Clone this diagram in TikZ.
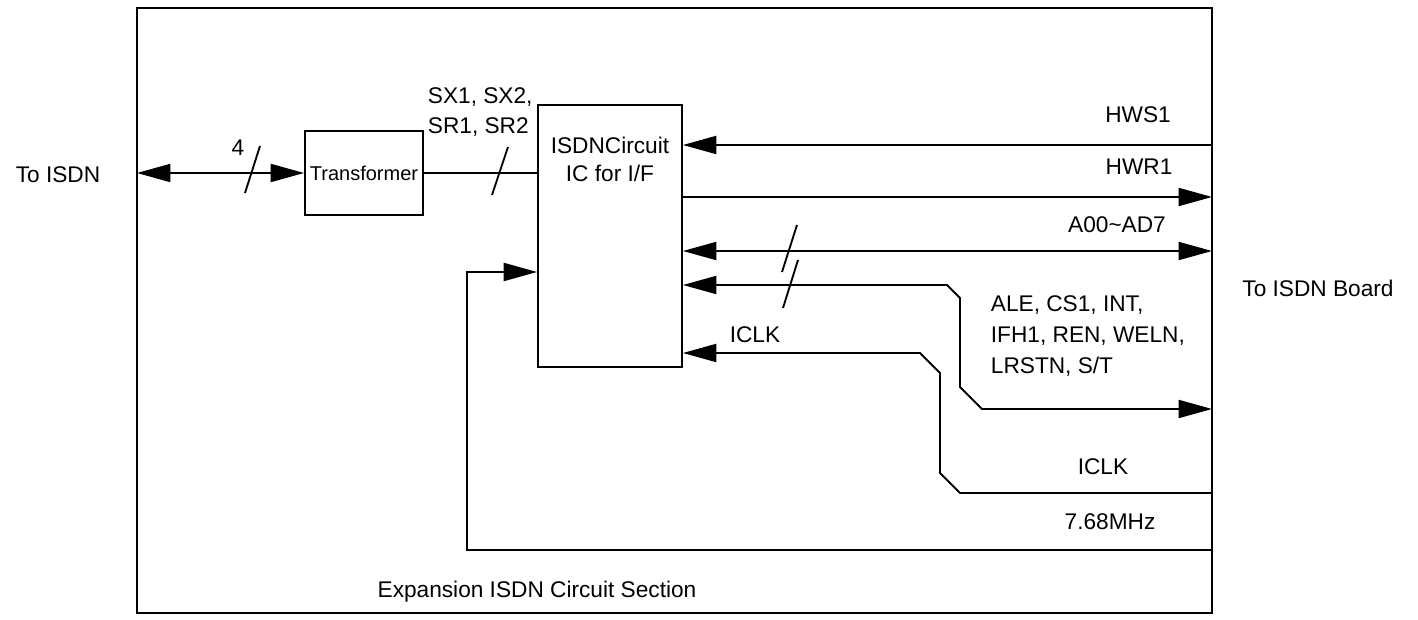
\documentclass[tikz,border=0pt]{standalone}
\usepackage{fontspec}
\setmainfont{Liberation Sans}
\usetikzlibrary{arrows.meta}

\begin{document}
\begin{tikzpicture}[x=0.75pt,y=0.75pt,yscale=-1,xscale=1,
    line width=1.4pt,
    >={Triangle[length=25pt,width=13.5pt]},
    every node/.style={font=\fontsize{17pt}{22.5pt}\selectfont, inner sep=0pt},
    blk/.style={draw, line width=1.4pt, inner sep=0pt}]
\useasboundingbox (0,0) rectangle (1418,620);

%Section frame
    \draw (137,8) rectangle (1212,613);

%Blocks
    \node [blk, minimum width=88.5pt, minimum height=63pt, font=\fontsize{15pt}{18pt}\selectfont] (trans) at (364,173) {Transformer};
    \node [blk, minimum width=108pt, minimum height=196.5pt] (ic) at (610,236) {};
    \node [align=center, font=\fontsize{17pt}{21pt}\selectfont] (ictext) at (610,159) {ISDNCircuit\\IC for I/F};

%Free ends on the frame
    \coordinate (isdn) at (137,173);
    \coordinate (hws) at (1212,145);
    \coordinate (hwr) at (1212,197);
    \coordinate (adbus) at (1212,251);
    \coordinate (ctl) at (1212,409);
    \coordinate (clk) at (1212,493);
    \coordinate (osc) at (1212,550);

%Connectors
    \draw [<->] (isdn) -- (trans.west);
    \draw (trans.east) -- (trans.east -| ic.west);
    \draw [<-] (ic.east |- hws) -- (hws);
    \draw [->] (ic.east |- hwr) -- (hwr);
    \draw [<->] (ic.east |- adbus) -- (adbus);
    \draw [<->] (ic.east |- 0,285) -- (947,285) -- (960,298) -- (960,387) -- (982,409) -- (ctl);
    \draw [<-] (ic.east |- 0,353) -- (920,353) -- (940,373) -- (940,473) -- (960,493) -- (clk);
    \draw [->] (osc) -- (467,550) -- (467,272) -- (ic.west |- 0,272);

%Bus slashes
    \draw (260,146) -- (245,193);
    \draw (508,147) -- (492,195);
    \draw (797,225) -- (782,272);
    \draw (798,260) -- (783,308);

%Labels
    \node (toisdn) at (58,175) {To ISDN};
    \node (four) at (238,148) {4};
    \node [align=left, anchor=west] (slbl) at (427,112) {SX1, SX2,\\SR1, SR2};
    \node (hwslbl) at (1138,115) {HWS1};
    \node (hwrlbl) at (1139,167) {HWR1};
    \node (adlbl) at (1117,225) {A00\textasciitilde AD7};
    \node [align=left, anchor=west, font=\fontsize{17pt}{23.5pt}\selectfont] (ctllbl) at (990,336) {ALE, CS1, INT,\\IFH1, REN, WELN,\\LRSTN, S/T};
    \node (iclklbl) at (755,335) {ICLK};
    \node (clklbl) at (1103,467) {ICLK};
    \node (osclbl) at (1110,522) {7.68MHz};
    \node (board) at (1318,288) {To ISDN Board};
    \node (section) at (537,592) {Expansion ISDN Circuit Section};
\end{tikzpicture}
\end{document}
